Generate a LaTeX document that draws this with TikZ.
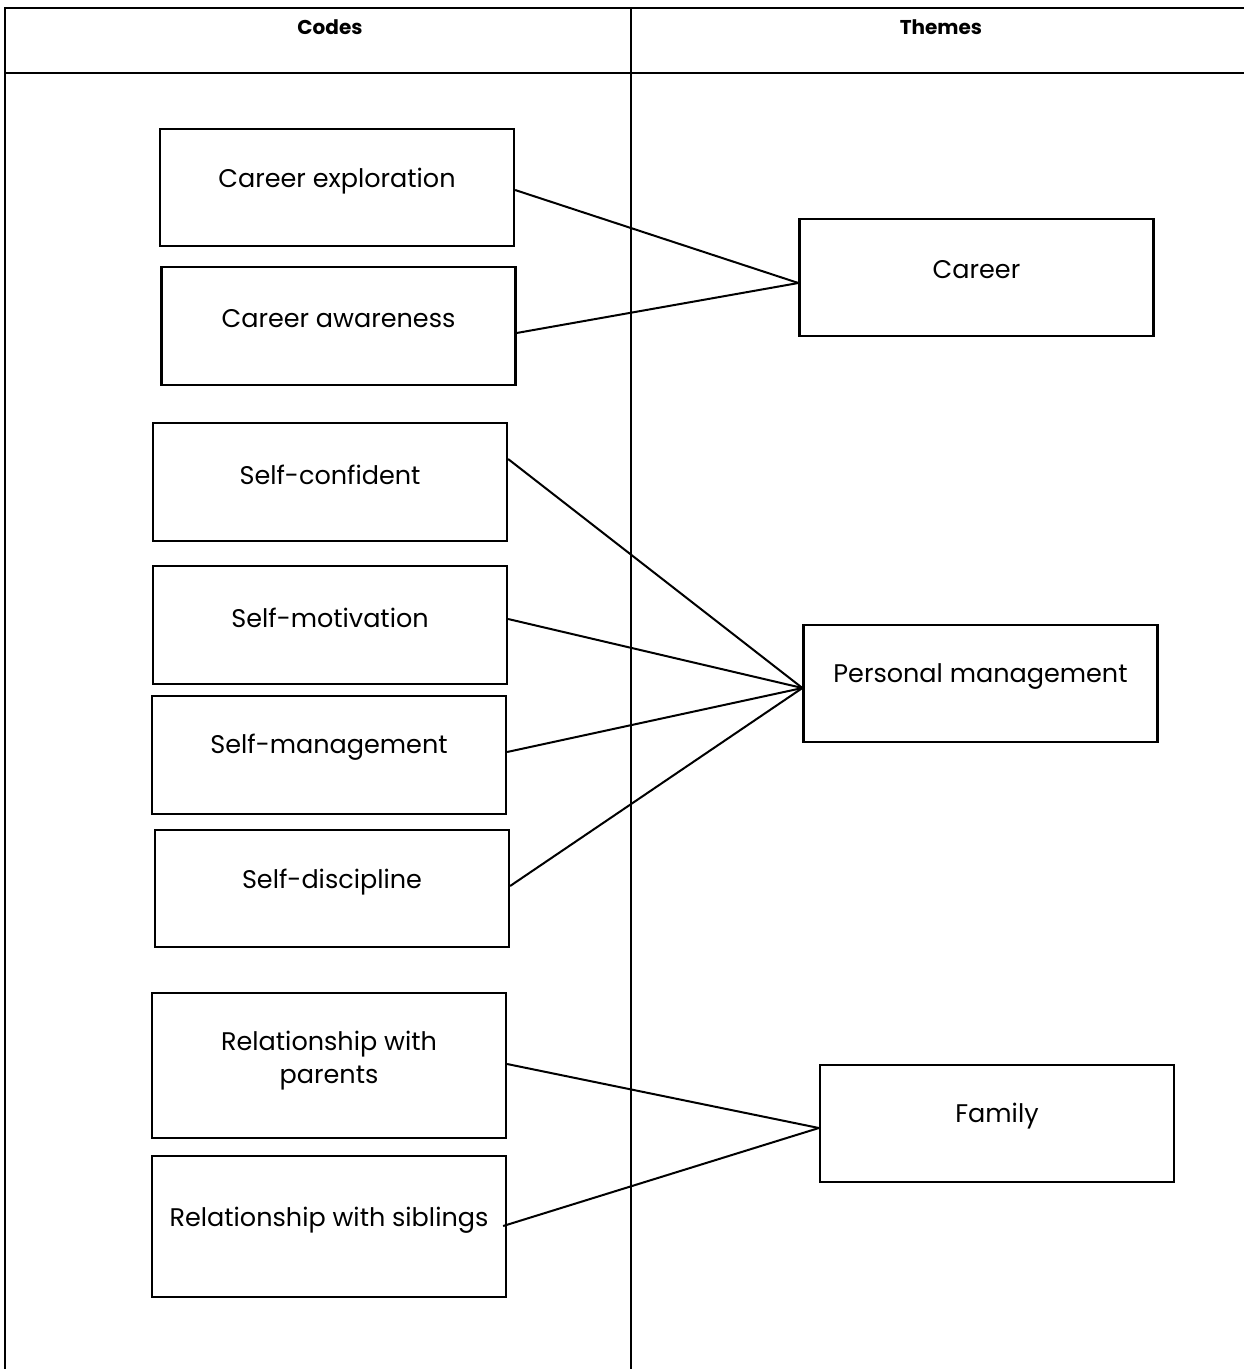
\documentclass[tikz,border=0pt]{standalone}
\usepackage{fontspec}
\setmainfont{Poppins}
\begin{document}
\begin{tikzpicture}[x=1pt,y=-1pt,
  codebox/.style={draw,line width=2.2pt,minimum width=354pt,minimum height=117pt,inner sep=0pt},
  txt/.style={font=\fontsize{25.5}{33}\selectfont,align=center},
  hdr/.style={font=\fontsize{20}{24}\selectfont\bfseries},
  rule/.style={line width=2pt},
  conn/.style={line width=2pt}]
\useasboundingbox (0,0) rectangle (1244,1369);
% table frame
\coordinate (tl) at (5,8);
\coordinate (tr) at (1244,8);
\coordinate (hl) at (5,73);
\coordinate (hr) at (1244,73);
\coordinate (bl) at (5,1369);
\coordinate (mt) at (631,8);
\coordinate (mb) at (631,1369);
\draw[rule] (tr) -- (tl) -- (bl);
\draw[rule] (hl) -- (hr);
\draw[rule] (mt) -- (mb);
\node[hdr] (codes) at (330,27) {Codes};
\node[hdr] (themes) at (941,27) {Themes};
% code boxes
\node[codebox,label={[txt,yshift=6.5pt]center:Career exploration}] (ce) at (337,187.5) {};
\node[codebox,minimum height=118pt,label={[txt,yshift=7.5pt]center:Career awareness}] (ca) at (338.5,326) {};
\node[codebox,label={[txt,yshift=7.5pt]center:Career}] (car) at (976.5,277.5) {};
\node[codebox,minimum height=118pt,label={[txt,yshift=7.5pt]center:Self-confident}] (sc) at (330,482) {};
\node[codebox,minimum height=118pt,label={[txt,yshift=7.5pt]center:Self-motivation}] (sm) at (330,625) {};
\node[codebox,minimum height=118pt,label={[txt,yshift=7.5pt]center:Self-management}] (sg) at (329,755) {};
\node[codebox,label={[txt,yshift=6.5pt]center:Self-discipline}] (sd) at (332,888.5) {};
\node[codebox,label={[txt,yshift=7.5pt]center:Personal management}] (pm) at (980.5,683.5) {};
\node[codebox,minimum height=145pt,label={[txt,yshift=5pt]center:Relationship with\\parents}] (rp) at (329,1065.5) {};
\node[codebox,minimum height=141pt,label={[txt,yshift=6pt]center:Relationship with siblings}] (rs) at (329,1226.5) {};
\node[codebox,label={[txt,yshift=7.5pt]center:Family}] (fam) at (997,1123.5) {};
% connectors
\draw[conn] ([yshift=-2.5pt]ce.east) -- ([yshift=-5.5pt]car.west);
\draw[conn] ([yshift=-7pt]ca.east) -- ([yshift=-5.5pt]car.west);
\draw[conn] ([yshift=23pt]sc.east) -- ([yshift=-4.5pt]pm.west);
\draw[conn] ([yshift=6pt]sm.east) -- ([yshift=-4.5pt]pm.west);
\draw[conn] ([yshift=3pt]sg.east) -- ([yshift=-4.5pt]pm.west);
\draw[conn] ([yshift=2.5pt]sd.east) -- ([yshift=-4.5pt]pm.west);
\draw[conn] ([yshift=1.5pt]rp.east) -- ([yshift=-4.5pt]fam.west);
\draw[conn] ([xshift=-4pt,yshift=0.5pt]rs.east) -- ([yshift=-4.5pt]fam.west);
\end{tikzpicture}
\end{document}
